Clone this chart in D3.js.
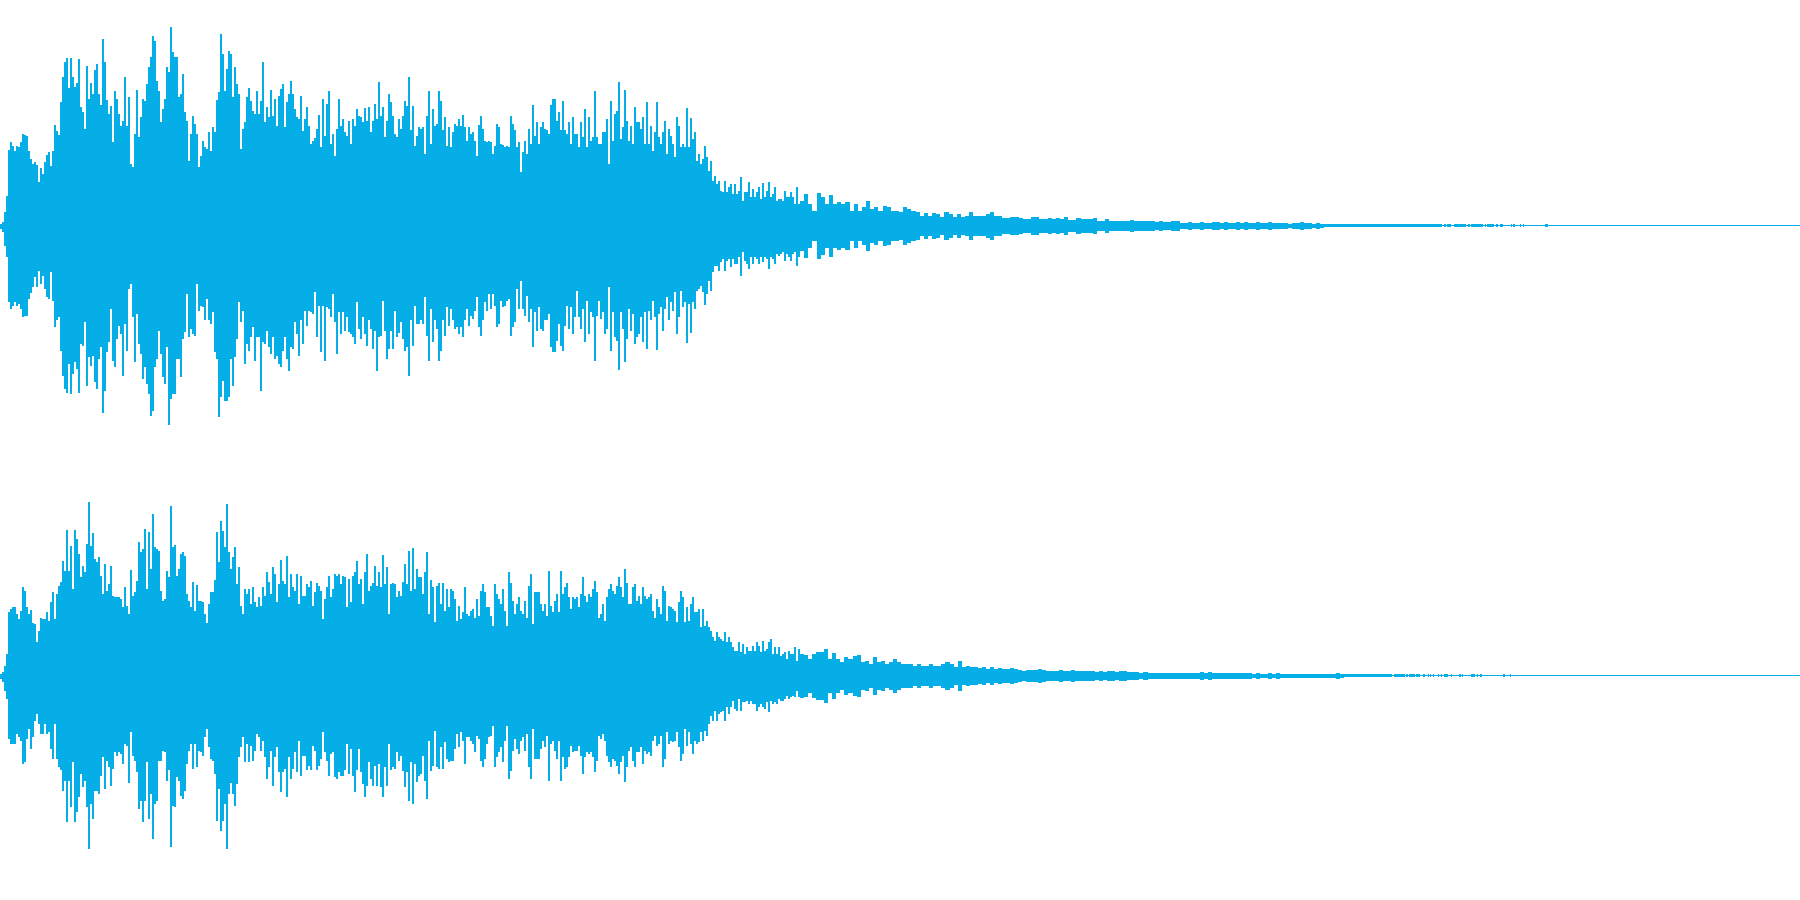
<!DOCTYPE html>
<html><head><meta charset="utf-8">
<script src="https://cdnjs.cloudflare.com/ajax/libs/d3/7.8.5/d3.min.js"></script>
<style>html,body{margin:0;padding:0;background:#fff;overflow:hidden}svg{display:block}</style>
</head><body><svg id="c" width="1800" height="900"></svg>
<script>
// Amplitudes; one unit is one pixel of the 1800x900 reference.
const ch1UpperA=[2,4,14,30,76,84,80,75,80,79,84,92,91,90,75,67,62,64,61,44,58,52,64,71,74,60,75,101,95,91,124,149,164,168,138,168,149,139,143,167,119,114,97,160,127,143,132,156,162,132,121,187,164,126,112,120,84,135,127,112,100,105,149,100,129,62,59,92,136,89,109,127,125,142,159,169,190,185,145,135,104,117,127,159,154,199,174,169,169,129,132,152,114,105,65,92,110,102,92,59,70,85,79,77,94,75,99,94,126,134,192,172,135,157,175,172,129,159,142,132,77,97,104,129,138,125,115,112,135,112,125,164,104,119,109,136,110,127,100,130,137,142,99,124,132,145,132,117,109,107,130,95,107,119,100,82,85,88,97,111,79,127,90,122,135,82,92,70,97,127,100,107,94,90,105,82,107,100,117,110,109,104,118,105,119,94,105,122,107,144,110,119,89,105,132,124,110,92,89,107];
const ch1UpperB=[97,110,125,120,149,96,120,80,90,99,97,99,72,110,135,82,117,100,102,135,125,96,109,80,99,79,94,102,100,107,100,111,99,85,99,92,94,85,70,101,110,97,85,84,85,84,72,80,102,99,82,81,79,80,79,110,102,96,79,84,54,74,85,72,97,82,121,90,104,82,99,104,97,96,92,121,127,127,105,114,96,125,96,92,104,82,109,92,92,79,104,89,117,79,109,85,89,135,89,82,82,94,94,107,62,125,85,112,115,144,87,99,136,105,85,100,82,119,104,104,97,109,82,124,82,100,75,94,124,89,82,94,105,72,97,90,82,69,109,100,79,82,79,118,79,108,87,94,65,72,62,67,80,69,55,65,45,50,42,45,35,34,45,34,39,42,32,42,32,35,49,25,34,34,44,29,37,29,34,39,27,43,29,35,44,29,32,39,25,27,27,25,35,29,29,34,29,22,39,22];
const ch1LowerA=[3,6,20,31,76,83,80,76,80,78,83,91,90,90,73,67,61,51,61,45,58,50,63,71,73,46,75,101,94,91,125,150,163,167,138,168,148,136,143,167,118,120,96,160,131,140,130,156,163,133,121,187,165,126,116,83,135,141,113,100,108,150,98,125,63,58,91,136,88,118,128,153,141,158,168,190,185,141,133,105,128,151,158,121,199,173,168,168,133,133,151,113,106,68,111,103,108,110,58,85,80,81,94,73,94,98,86,126,133,191,171,155,175,175,171,133,160,131,113,76,96,85,138,118,125,111,101,135,111,111,165,116,118,105,121,128,111,133,130,138,141,125,111,133,145,121,123,96,108,130,94,118,85,100,85,86,88,66,111,80,126,80,135,81,83,91,68,96,128,86,108,86,105,91,106,108,111,118,76,103,113,91,108,120,94,103,123,105,145,111,110,75,105,133,123,105,123,85,111];
const ch1LowerB=[96,113,125,121,150,94,120,80,98,98,94,98,71,110,135,83,116,94,103,135,125,94,110,81,100,83,94,103,101,108,101,111,94,83,100,90,93,85,71,101,110,94,76,85,68,83,68,80,101,98,75,81,80,75,73,110,101,96,63,83,55,83,90,70,96,83,121,86,105,81,103,105,94,94,88,121,126,126,115,98,120,125,100,80,103,81,108,91,65,91,103,83,116,75,108,86,91,135,90,75,93,86,108,103,61,125,86,111,115,144,86,103,136,113,83,105,88,118,111,108,91,116,86,123,85,94,75,91,124,88,81,105,83,71,94,76,85,66,108,91,65,81,76,117,78,107,76,83,65,63,60,66,79,68,55,65,46,40,40,45,36,33,45,35,33,41,33,38,38,31,50,26,35,38,43,31,38,31,33,38,31,36,31,33,43,31,33,38,28,30,28,26,35,28,31,35,28,26,40,31];
const ch2UpperA=[2,4,10,22,64,67,69,69,62,57,65,89,85,69,62,66,53,52,34,45,58,57,57,64,55,74,84,57,82,90,94,115,105,146,105,130,87,146,137,122,99,110,104,132,174,130,143,117,114,119,100,82,112,85,92,110,80,79,79,79,77,69,89,70,62,106,80,84,95,134,124,127,147,87,144,107,162,129,127,125,85,75,77,105,99,170,129,131,100,107,122,124,120,82,75,69,94,65,91,75,75,74,62,53,72,84,84,96,144,114,155,145,129,172,124,107,119,129,92,109,70,62,87,82,87,72,89,74,69,79,70,89,80,104,94,82,109,102,74,92,116,95,92,120,79,102,89,85,102,72,100,80,80,92,89,95,70,84,93,90,85,57,77,89,100,79,87,102,100,102,92,100,99,69,97,74,100,104,115,92,97,72,104,122,85,90,93,110,90,104,89,121,92,109,62,92,93,92,79,85];
const ch2UpperB=[80,94,112,92,125,85,128,87,107,99,99,82,104,124,62,96,89,54,90,93,72,93,65,87,69,87,85,77,55,70,57,64,89,62,60,65,67,58,77,60,85,92,84,69,69,60,50,92,82,77,72,87,65,50,104,93,75,62,72,79,65,62,75,58,90,102,52,84,84,84,72,65,72,60,105,70,64,75,82,64,105,82,89,93,79,67,79,77,79,69,82,99,80,74,82,79,87,95,84,58,62,72,55,79,87,92,85,82,90,99,89,79,107,93,72,72,89,92,75,80,72,89,80,77,79,82,65,58,77,69,62,90,85,55,70,69,67,65,54,74,85,79,54,69,55,72,79,64,64,67,49,67,50,55,49,45,39,35,44,39,37,35,44,34,39,34,29,25,25,34,24,32,22,29,25,25,30,25,34,30,24,35,25,27,34,37,22,29,22,29,20,22,24,17,25,22,22,29,15,27];
const ch2LowerA=[3,6,15,23,63,68,68,68,58,61,65,88,86,63,53,73,61,45,38,48,58,58,48,58,56,73,83,48,83,91,94,115,105,146,105,131,86,146,136,121,98,111,105,131,173,128,143,115,115,118,100,81,113,85,91,110,93,76,80,76,78,88,68,70,107,56,80,85,96,133,125,146,125,86,143,118,163,128,125,85,85,75,76,105,94,171,130,131,101,105,120,123,115,88,75,68,93,68,91,75,76,80,61,53,71,83,85,98,145,113,155,145,128,173,118,107,118,130,108,81,71,61,86,68,86,70,85,75,58,61,75,65,81,103,91,75,110,81,71,96,116,96,93,121,81,103,93,76,96,65,100,80,80,94,90,94,70,75,94,90,83,56,76,85,100,78,76,101,103,96,100,100,94,68,98,73,100,116,94,73,96,108,121,110,86,103,110,90,110,88,111,121,91,110,68,94,91,93,76,85];
const ch2LowerB=[80,95,111,96,125,86,128,88,106,100,98,80,105,123,65,95,90,55,91,93,71,93,66,83,86,85,85,73,58,71,56,65,88,61,61,65,68,76,60,63,85,91,83,68,61,60,50,91,81,76,71,86,65,50,103,95,75,63,73,78,65,61,75,58,91,103,53,83,83,83,73,65,71,60,105,68,65,75,83,65,105,81,93,91,81,70,76,75,75,70,80,98,81,76,78,76,81,96,85,60,63,58,65,80,86,91,83,85,90,98,86,80,106,91,75,71,85,91,76,76,71,88,75,78,76,80,65,60,70,68,60,91,83,56,68,65,66,65,56,71,85,78,53,70,56,68,78,65,68,66,56,65,55,60,48,40,45,35,45,38,36,35,45,31,38,31,25,33,35,23,35,26,26,25,28,25,28,28,35,31,28,31,33,26,36,25,28,26,28,23,25,25,23,20,23,21,20,21,15,21];
const ch1Tail=[25,32,22,15,33,29,22,31,22,24,22,24,15,22,15,19,25,17,19,15,20,19,15,15,14,19,17,15,14,10,13,10,13,12,9,14,12,9,12,9,10,14,10,10,10,12,14,10,10,8,8,9,9,8,7,7,9,9,7,7,8,7,8,7,9,6,6,8,7,7,7,8,5,5,7,5,5,5,5,5,6,5,5,5,5,5,4,5,4,4,5,5,3,3,4,3];
const ch2Tail=[22,21,17,22,24,24,27,17,23,17,14,19,17,20,21,14,15,12,19,14,15,12,14,17,14,12,12,12,10,12,10,10,12,10,10,12,14,12,9,15,9,10,9,9,8,9,7,9,7,8,7,7,8,7,6,5,6,6,6,7,6,5,5,5,6,5,5,6,5,5,5,5,5,4,5,4,5,5,4,5,5,4,4,4,3,4,3,3,3,3,3,3,3,3,3,3,3,3];
const ch1Far=[3,4,3,3,4,4,3,4,3,3,4,3,4,3,3,4,3,3,4,3,3,3,3,2,3,3,4,3,3,2,3,2];
const ch2Far=[3,4,3,4,3,3,3,3,3,3,3,3,3,3,2,3,2,2,3,2,3,2,2,2,2,2,2,2,2,2,2,2,2,2,2,3,2];
const bandStart=[1324,1444,1447,1454,1468,1471,1485,1487,1496,1500,1511,1513,1520,1523,1545];
const bandEnd=[1442,1446,1451,1466,1470,1483,1486,1494,1498,1503,1512,1515,1521,1524,1548];
const band2Start=[1344,1394,1406,1409,1416,1423,1428,1430,1433,1438,1441,1444,1451,1459,1462,1471,1477,1480,1503,1510];
const band2End=[1392,1405,1408,1415,1420,1425,1429,1431,1434,1439,1442,1448,1452,1461,1463,1475,1478,1482,1505,1511];
const spanEdges=[0,400,800,1196];
const silenceAmp=0.5, bandAmp=1.5;
const channelCentres=[225.5,675.5];
const waveColor="#05aee6";

const x=d3.scaleLinear().domain([0,1800]).range([0,1800]);
const y=d3.scaleLinear().domain([-225,225]).range([225,-225]);
const area=d3.area().x(d=>x(d.t)).y0(d=>y(-d.lo)).y1(d=>y(d.hi)).curve(d3.curveStepAfter);

// Each part of a channel covers a fixed stretch of the time axis.
function part(pts,hi,lo,t0,t1){
  const n=Math.max(hi.length,1), st=(t1-t0)/n;
  hi.forEach((v,i)=>pts.push({t:t0+i*st,hi:v,lo:lo[i]??hi[hi.length-1]}));
}
function build(upA,loA,upB,loB,tail,far,bs,be){
  const pts=[];
  part(pts,upA,loA,spanEdges[0],spanEdges[1]);
  part(pts,upB,loB,spanEdges[1],spanEdges[2]);
  part(pts,tail,tail,spanEdges[2],spanEdges[3]);
  part(pts,far,far,spanEdges[3],bs[0]);
  bs.forEach((s,i)=>{
    pts.push({t:s,hi:bandAmp,lo:bandAmp});
    pts.push({t:be[i],hi:silenceAmp,lo:silenceAmp});
  });
  pts.push({t:1800,hi:silenceAmp,lo:silenceAmp});
  return pts;
}
const svg=d3.select("#c");
const channels=[
  build(ch1UpperA,ch1LowerA,ch1UpperB,ch1LowerB,ch1Tail,ch1Far,bandStart,bandEnd),
  build(ch2UpperA,ch2LowerA,ch2UpperB,ch2LowerB,ch2Tail,ch2Far,band2Start,band2End)
];
svg.selectAll("path").data(channels).join("path")
  .attr("transform",(d,i)=>`translate(0,${channelCentres[i]})`)
  .attr("d",d=>area(d))
  .attr("fill",waveColor)
  .attr("shape-rendering","crispEdges");
</script></body></html>
